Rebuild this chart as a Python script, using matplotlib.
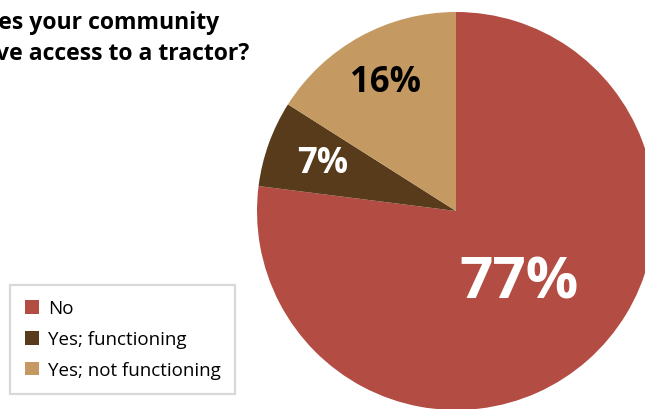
import matplotlib.pyplot as plt

# share of communities with access to a tractor
labels = ['No', 'Yes; functioning', 'Yes; not functioning']
values = [77, 7, 16]
colors = ['#B34C42', '#573B1A', '#C49A62']
pct_colors = ['white', 'white', 'black']
pct_sizes = [42, 25, 25]
pct_dist = [0.48, 0.71, 0.74]

W, H = 645, 410
fig = plt.figure(figsize=(W / 100, H / 100), dpi=100)
ax = fig.add_axes([0, 0, 1, 1])

cx, cy, r = 456, H - 212, 199
wedges, _, pcts = ax.pie(values, colors=colors, startangle=90, counterclock=False,
                         center=(cx, cy), radius=r, autopct='%d%%',
                         wedgeprops=dict(linewidth=0))

for t, c, s, d in zip(pcts, pct_colors, pct_sizes, pct_dist):
    x, y = t.get_position()
    # pull each percentage along its wedge's mid ray
    x = cx + (x - cx) / 0.6 * d
    y = cy + (y - cy) / 0.6 * d
    t.set_position((x, y))
    t.set_color(c)
    t.set_fontsize(s)
    t.set_fontweight('bold')
    t.set_fontfamily('Open Sans')

ax.set_xlim(0, W)
ax.set_ylim(0, H)
ax.set_aspect('equal')
ax.axis('off')

fig.text(-33 / W, 1 - 11 / H, 'Does your community\nhave access to a tractor?',
         ha='left', va='top', fontsize=16.6, fontweight='bold',
         family='Open Sans', linespacing=1.4)

leg = ax.legend(wedges, labels, loc='lower left',
                bbox_to_anchor=(10 / W, 15 / H), bbox_transform=fig.transFigure,
                prop={'family': 'Open Sans', 'size': 13.5},
                frameon=True, fancybox=False, borderaxespad=0,
                handlelength=0.76, handleheight=0.76, handletextpad=0.45,
                labelspacing=0.68, borderpad=0.8)
leg.get_frame().set_edgecolor('#D0D0D0')
leg.get_frame().set_linewidth(1.6)

fig.savefig('out.png', dpi=100)
